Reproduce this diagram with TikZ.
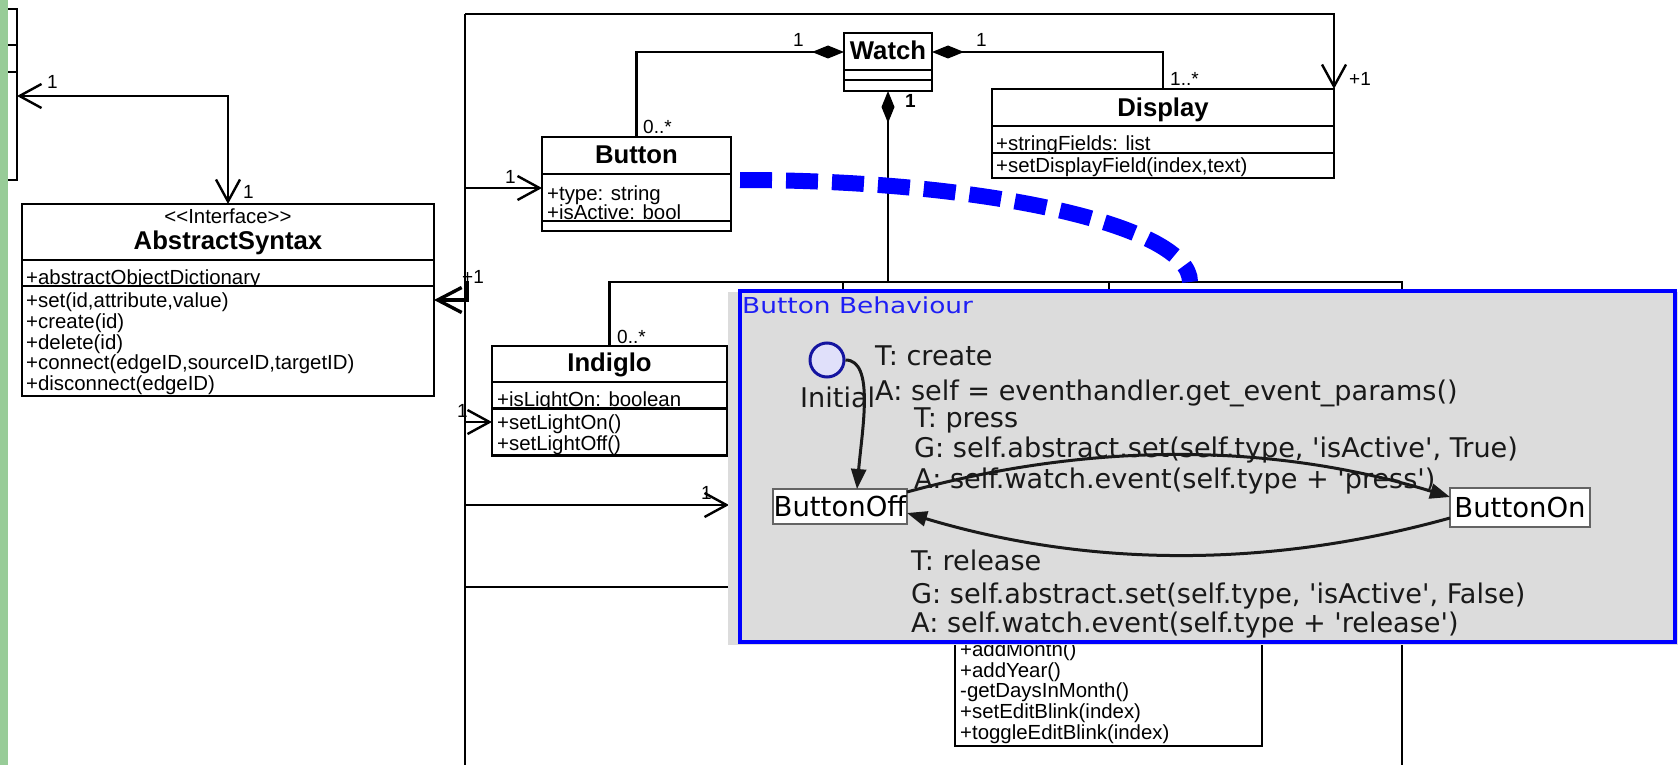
\documentclass[tikz,border=0pt]{standalone}
\usepackage{fontspec}
\usepackage{graphicx}
\setmainfont{Liberation Sans}
\newfontfamily\dejavu[Ligatures=TeXOff]{DejaVu Sans}
\usetikzlibrary{arrows.meta}

\definecolor{sidegreen}{RGB}{152,204,152}
\definecolor{panelgray}{RGB}{220,220,220}
\definecolor{panelblue}{RGB}{0,0,255}
\definecolor{titleblue}{RGB}{30,30,245}
\definecolor{initfill}{RGB}{224,224,250}
\definecolor{initdraw}{RGB}{20,20,160}
\definecolor{stateedge}{RGB}{100,100,100}
\definecolor{smtext}{RGB}{25,25,25}

\newcommand{\fsz}[1]{\fontsize{#1}{#1}\selectfont}

\begin{document}
\begin{tikzpicture}[x=1pt,y=-1pt,
  umlline/.style={line width=2.2pt},
  umlbox/.style={draw, line width=2.5pt, fill=white, inner sep=0pt, outer sep=0pt, anchor=north west},
  divider/.style={line width=2.5pt},
  umltitle/.style={font=\bfseries\fsz{25.7}, inner sep=0pt, anchor=base},
  umltext/.style={font=\fsz{20.4}, inner sep=0pt, anchor=base west},
  mult/.style={font=\fsz{19}, inner sep=0pt, anchor=base west},
  navi/.style={-{Straight Barb[length=22pt,width=24pt,line width=2.4pt]}},
  navibold/.style={-{Straight Barb[length=24pt,width=25pt,line width=3.4pt]}},
  bothnavi/.style={{Straight Barb[length=22pt,width=24pt,line width=2.4pt]}-{Straight Barb[length=22pt,width=24pt,line width=2.4pt]}},
  comp/.style={{Diamond[length=32pt,width=13pt]}-},
  bluedash/.style={draw=panelblue, line width=16pt, dash pattern=on 32pt off 14pt},
  statebox/.style={draw=stateedge, line width=2.5pt, fill=white, inner sep=0pt, outer sep=0pt, anchor=north west, font=\dejavu\fsz{27.5}},
  smedge/.style={line width=3pt, draw=smtext, -{Triangle[length=20pt,width=15pt]}},
  smlabel/.style={font=\dejavu\fsz{27.1}, text=smtext, inner sep=0pt, anchor=base west}
]
\useasboundingbox (0,0) rectangle (1678,765);
\clip (0,0) rectangle (1678,765);

% ---- class at the far left, mostly off the page ----
\node[umlbox, minimum width=80pt, minimum height=171pt] (leftcls) at (-63,9) {};
\draw[divider] (-63,45) -- (17,45);
\draw[divider] (-63,72) -- (17,72);
\fill[sidegreen] (0,0) rectangle (8,765);

% ---- AbstractSyntax ----
\node[umlbox, minimum width=412pt, minimum height=192pt] (abs) at (22,204) {};
\draw[divider] (22,260) -- (434,260);
\node[font=\fsz{20.4}, inner sep=0pt, anchor=base] (absster) at (228,223) {<{}<Interface>{}>};
\node[umltitle] (absname) at (228,249) {AbstractSyntax};
\node[umltext] (absattr) at (26,284.5) {+abstractObjectDictionary};
\node[umlbox, minimum width=412pt, minimum height=110pt] (absops) at (22,286) {};
\node[umltext] (absop1) at (26,307) {+set(id,attribute,value)};
\node[umltext] (absop2) at (26,328) {+create(id)};
\node[umltext] (absop3) at (26,349) {+delete(id)};
\node[umltext] (absop4) at (26,369) {+connect(edgeID,sourceID,targetID)};
\node[umltext] (absop5) at (26,390) {+disconnect(edgeID)};

% ---- Watch ----
\node[umlbox, minimum width=88pt, minimum height=58pt] (watch) at (844,33) {};
\draw[divider] (844,70) -- (932,70);
\draw[divider] (844,80) -- (932,80);
\node[umltitle] (watchname) at (888,60) {Watch};

% ---- Button ----
\node[umlbox, minimum width=189pt, minimum height=94pt] (button) at (542,137) {};
\draw[divider] (542,174) -- (731,174);
\node[umltitle] (buttonname) at (636.5,164) {Button};
\node[umltext] (buttonattr1) at (547,200) {+type: string};
\node[umltext] (buttonattr2) at (547,219.5) {+isActive: bool};
\node[umlbox, minimum width=189pt, minimum height=10pt] (buttonops) at (542,221) {};

% ---- Display ----
\node[umlbox, minimum width=342pt, minimum height=89pt] (display) at (992,89) {};
\draw[divider] (992,126) -- (1334,126);
\node[umltitle] (displayname) at (1163,117) {Display};
\node[umltext] (displayattr) at (996,150.5) {+stringFields: list};
\node[umlbox, minimum width=342pt, minimum height=25pt] (displayops) at (992,153) {};
\node[umltext] (displayop) at (996,172) {+setDisplayField(index,text)};

% ---- Indiglo ----
\node[umlbox, minimum width=235pt, minimum height=109pt] (indiglo) at (492,346) {};
\draw[divider] (492,382) -- (727,382);
\node[umltitle] (indigloname) at (609.5,371) {Indiglo};
\node[umltext] (indigloattr) at (497,406) {+isLightOn: boolean};
\node[umlbox, minimum width=235pt, minimum height=47pt] (indiglops) at (492,408.5) {};
\node[umltext] (indiglop1) at (497,429) {+setLightOn()};
\node[umltext] (indiglop2) at (497,450) {+setLightOff()};

% ---- time keeping class, lower part ----
\node[umlbox, minimum width=307pt, minimum height=150pt] (timecls) at (955,596) {};
\node[umltext] (timeop1) at (960,656) {+addMonth()};
\node[umltext] (timeop2) at (960,677) {+addYear()};
\node[umltext] (timeop3) at (960,697.5) {-getDaysInMonth()};
\node[umltext] (timeop4) at (960,718.5) {+setEditBlink(index)};
\node[umltext] (timeop5) at (960,739) {+toggleEditBlink(index)};

% ---- associations ----
\coordinate (trunktop) at (465,14);
\coordinate (trunkbot) at (465,765);
\draw[umlline] (trunkbot) -- (trunktop);
\draw[umlline, navi] (trunktop) -| (display.north east);

\coordinate (jbutton) at (465,188);
\draw[umlline, navi] (jbutton) -- (jbutton -| button.west);
\coordinate (jindiglo) at (465,422);
\draw[umlline, navi] (jindiglo) -- (jindiglo -| indiglo.west);
\coordinate (jhidden) at (465,505);
\coordinate (hiddentarget) at (729,505);
\draw[umlline, navi] (jhidden) -- (hiddentarget);
\coordinate (jlow) at (465,587);
\coordinate (lowtarget) at (740,587);
\draw[umlline] (jlow) -- (lowtarget);

\coordinate (jabs) at (467,281);
\coordinate (jabs2) at (467,300);
\draw[line width=3.2pt, navibold] (jabs) -- (jabs2) -- (jabs2 -| abs.east);

\coordinate (lk) at (228,96);
\draw[umlline, bothnavi] (lk -| leftcls.east) -- (lk) -- (abs.north);

% compositions of Watch
\coordinate (wy) at (0,52);
\draw[umlline, comp] (wy -| watch.west) -| (button.north);
\draw[umlline, comp] (wy -| watch.east) -| (display.north);
\coordinate (hy) at (0,282);
\draw[umlline, comp] (watch.south) -- (watch.south |- hy);
\coordinate (hright) at (1402,282);
\coordinate (hrightbot) at (1402,765);
\draw[umlline] (indiglo.north) |- (hright) -- (hrightbot);
\coordinate (tick1) at (843,282);
\coordinate (tick1b) at (843,310);
\coordinate (tick2) at (1109,282);
\coordinate (tick2b) at (1109,310);
\draw[umlline] (tick1) -- (tick1b);
\draw[umlline] (tick2) -- (tick2b);

% multiplicities
\node[mult] (m1) at (47,89) {1};
\node[mult] (m2) at (243,198) {1};
\node[mult] (m3) at (462,283) {+1};
\node[mult] (m4) at (505,183) {1};
\node[mult] (m5) at (793,47) {1};
\node[mult] (m6) at (643,134) {0..*};
\node[mult, font=\bfseries\fsz{19}] (m7) at (905,108) {1};
\node[mult] (m8) at (976,47) {1};
\node[mult] (m9) at (1170,86) {1..*};
\node[mult] (m10) at (1349,86) {+1};
\node[mult] (m11) at (457,417) {1};
\node[mult] (m12) at (701,499) {1};
\node[mult] (m13) at (617,343) {0..*};

% ---- Button Behaviour statechart panel ----
\fill[panelgray] (728,292) rectangle (1678,645);
\node[draw=panelblue, line width=4pt, fill=panelgray, inner sep=0pt, outer sep=0pt,
      minimum width=935pt, minimum height=351pt, anchor=north west] (bb) at (740,291) {};
\node[anchor=base west, inner sep=0pt, text=titleblue, font=\dejavu\fsz{22}] (bbtitle) at (742,313)
  {\scalebox{1.2}[1]{Button Behaviour}};

\coordinate (dashstart) at (740,180);
\coordinate (dashend) at (1190,282);
\draw[bluedash] (dashstart) .. controls (988,180) and (1190,226) .. (dashend);

\node[circle, draw=initdraw, fill=initfill, line width=3pt, minimum size=34pt, inner sep=0pt] (init) at (827,360) {};
\node[smlabel] (initlbl) at (800,407) {Initial};
\node[statebox, minimum width=134pt, minimum height=35pt] (off) at (773,489) {ButtonOff};
\node[statebox, minimum width=140pt, minimum height=39pt] (on) at (1450,488) {ButtonOn};

\draw[smedge] (init.east) .. controls (875,360) and (862,430) .. ([xshift=17pt]off.north);
\draw[smedge] ([yshift=-3pt]off.north east) .. controls (1090,442) and (1270,442) .. ([yshift=-9pt]on.north west);
\draw[smedge] ([yshift=9pt]on.south west) .. controls (1270,568) and (1090,568) .. ([yshift=11pt]off.south east);

\node[smlabel] (t1) at (875,365) {T: create};
\node[smlabel] (t2) at (875,400) {A: self = eventhandler.get\_event\_params()};
\node[smlabel] (t3) at (914,427) {T: press};
\node[smlabel] (t4) at (914,457) {G: self.abstract.set(self.type, 'isActive', True)};
\node[smlabel] (t5) at (914,488) {A: self.watch.event(self.type + 'press')};
\node[smlabel] (t6) at (911,570) {T: release};
\node[smlabel] (t7) at (911,603) {G: self.abstract.set(self.type, 'isActive', False)};
\node[smlabel] (t8) at (911,632) {A: self.watch.event(self.type + 'release')};
\end{tikzpicture}
\end{document}
